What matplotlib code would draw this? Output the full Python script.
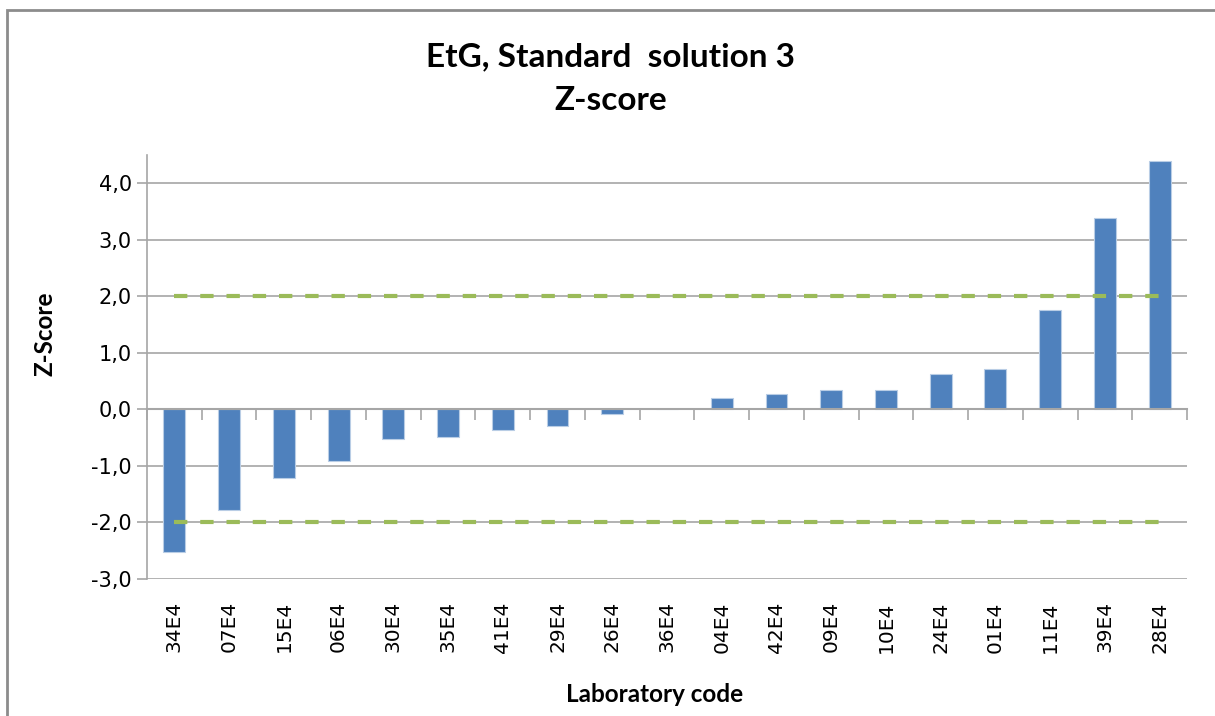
import matplotlib
matplotlib.use('Agg')
from matplotlib import pyplot as plt
from matplotlib.patches import Rectangle

codes = ['34E4', '07E4', '15E4', '06E4', '30E4', '35E4', '41E4', '29E4', '26E4', '36E4',
         '04E4', '42E4', '09E4', '10E4', '24E4', '01E4', '11E4', '39E4', '28E4']
zscores = [-2.53, -1.78, -1.22, -0.92, -0.53, -0.49, -0.37, -0.29, -0.09, 0.0,
           0.21, 0.27, 0.35, 0.35, 0.62, 0.71, 1.76, 3.38, 4.39]
yticks = [-3, -2, -1, 0, 1, 2, 3, 4]
ytick_labels = ['-3,0', '-2,0', '-1,0', '0,0', '1,0', '2,0', '3,0', '4,0']
limit = 2.0

bar_color = '#4F81BD'
line_color = '#9BBB59'
grid_color = '#a6a6a6'

fig = plt.figure(figsize=(12.15, 7.16), dpi=100)
# outer chart frame
fig.patches.append(Rectangle((7 / 1215, -0.01), 1.2, 1 - 10 / 716 + 0.01, transform=fig.transFigure,
                             fill=False, edgecolor='#8c8c8c', lw=2))

ax = fig.add_axes([147 / 1215, 1 - 579 / 716, (1187 - 147) / 1215, (579 - 155) / 716])
x = list(range(len(codes)))

ax.set_axisbelow(True)
ax.yaxis.grid(True, color=grid_color, lw=1.2)
ax.bar(x, zscores, width=0.4, color=bar_color, edgecolor='#b9cde5', lw=0.8, zorder=2)
ax.plot([x[0], x[-1]], [limit, limit], color=line_color, lw=3, dashes=(3.2, 3.1), zorder=3)
ax.plot([x[0], x[-1]], [-limit, -limit], color=line_color, lw=3, dashes=(3.2, 3.1), zorder=3)

ax.set_xlim(-0.5, len(codes) - 0.5)
ax.set_ylim(-3, 4.5)
ax.set_yticks(yticks)
ax.set_yticklabels(ytick_labels)
ax.tick_params(axis='y', length=7, width=1.2, color=grid_color, labelsize=15, pad=4)

for s in ['top', 'right']:
    ax.spines[s].set_visible(False)
ax.spines['left'].set_color(grid_color)
ax.spines['left'].set_linewidth(1.2)
# horizontal axis crosses at zero, tick marks between categories
ax.spines['bottom'].set_position(('data', 0))
ax.spines['bottom'].set_color(grid_color)
ax.spines['bottom'].set_linewidth(1.5)
ax.set_xticks([i + 0.5 for i in x[:-1]] + [-0.5, len(codes) - 0.5])
ax.tick_params(axis='x', length=8, width=1.2, color=grid_color, labelbottom=False)

# category labels at the bottom of the plot
sec = ax.secondary_xaxis('bottom')
sec.set_xticks(x)
sec.set_xticklabels(codes, rotation=90, fontsize=14.5)
sec.tick_params(length=0, pad=16)
sec.spines['bottom'].set_visible(False)

bold = dict(family='Lato', weight='bold')
fig.text(611 / 1215, 1 - 57 / 716, 'EtG, Standard  solution 3', ha='center', va='center', fontsize=24, **bold)
fig.text(611 / 1215, 1 - 100 / 716, 'Z-score', ha='center', va='center', fontsize=24, **bold)
fig.text(45 / 1215, 1 - 334 / 716, 'Z-Score', ha='center', va='center', rotation=90, fontsize=17.5, **bold)
fig.text(655 / 1215, 1 - 695 / 716, 'Laboratory code', ha='center', va='center', fontsize=17.5, **bold)

plt.savefig('out.png', dpi=100)
